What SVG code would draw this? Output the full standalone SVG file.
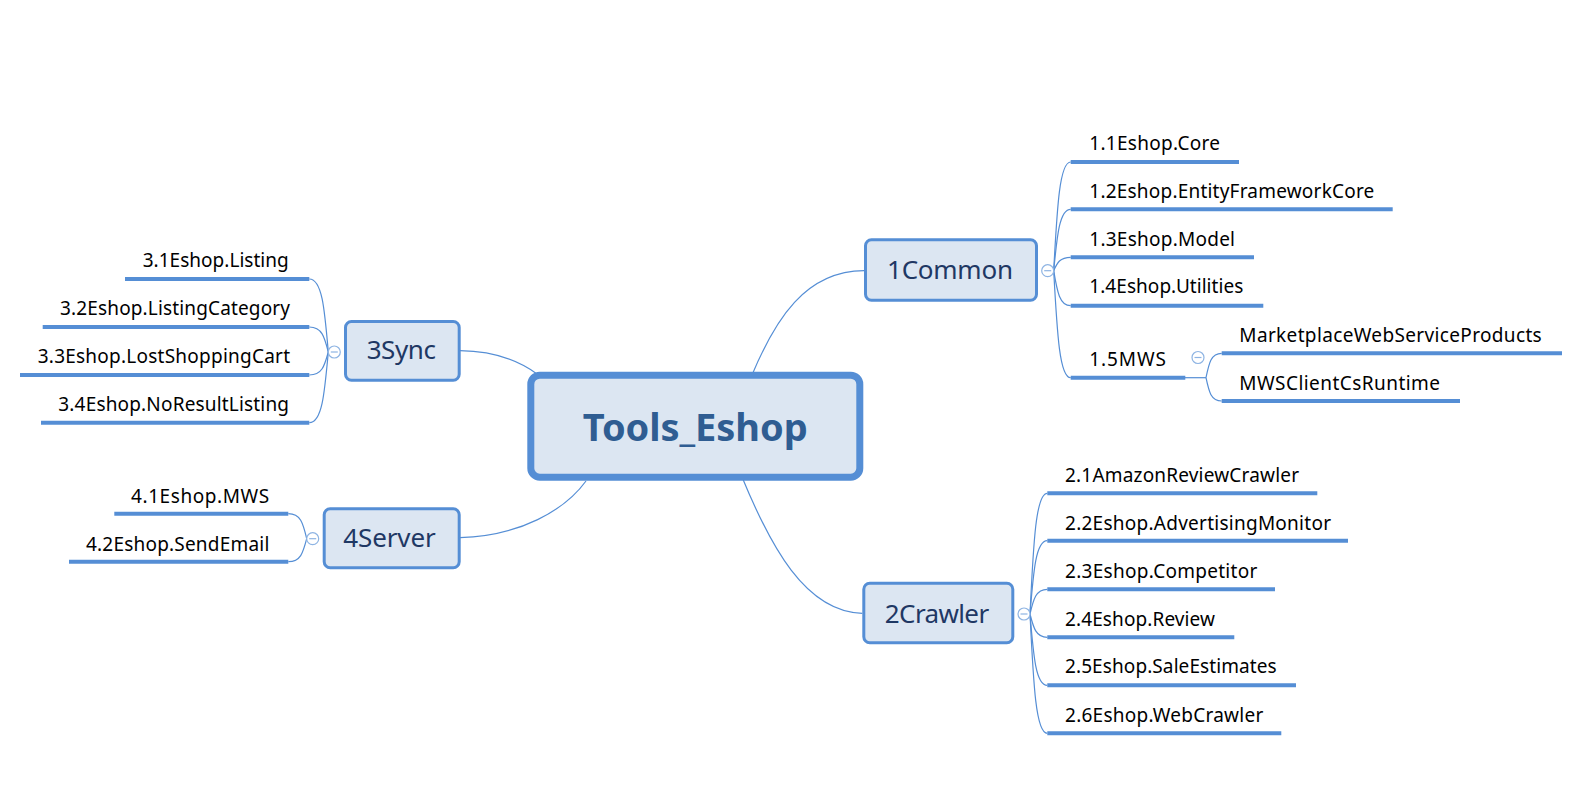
<svg xmlns="http://www.w3.org/2000/svg" width="1594" height="802" viewBox="0 0 1594 802">
<style>
.bg{fill:#ffffff}
.conn{fill:none;stroke:#558ED5;stroke-width:1.2}
.ul{stroke:#558ED5;stroke-width:4;stroke-linecap:butt}
.box{fill:#DCE6F2;stroke:#558ED5;stroke-width:3}
.central{fill:#DCE6F2;stroke:#558ED5;stroke-width:7}
.leaf{font-family:"Noto Sans","Open Sans","DejaVu Sans",sans-serif;font-size:19px;fill:#000000}
.btxt{font-family:"Noto Sans","Open Sans","DejaVu Sans",sans-serif;font-size:26px;fill:#1F3864;text-anchor:middle}
.ctxt{font-family:"Noto Sans","Open Sans","DejaVu Sans",sans-serif;font-size:38px;font-weight:bold;fill:#2F5D92;text-anchor:middle}
.tog{fill:#ffffff;stroke:#8EB4E3;stroke-width:1.2}
.togm{stroke:#8EB4E3;stroke-width:1.2}
</style>
<rect class="bg" x="0" y="0" width="1594" height="802"/>
<g id="connectors">
  <path class="conn" d="M752,375 C775,320 805,271 864,270.7"/>
  <path class="conn" d="M742,477 C770,545 805,612 862.3,613.3"/>
  <path class="conn" d="M460,350.7 C490,351 515,358 537,374"/>
  <path class="conn" d="M460,537.7 C520,536 565,510 586,481"/>
  <path class="conn" d="M1053.7,270.7 C1057.2,205.4 1059.7,162 1070.7,162"/>
  <path class="conn" d="M1053.7,270.7 C1057.2,234 1059.7,209.3 1070.7,209.3"/>
  <path class="conn" d="M1053.7,270.7 C1057.2,263 1059.7,257.3 1070.7,257.3"/>
  <path class="conn" d="M1053.7,270.7 C1057.2,292 1059.7,305.7 1070.7,305.7"/>
  <path class="conn" d="M1053.7,270.7 C1057.2,335 1059.7,377.7 1070.7,377.7"/>
  <path class="conn" d="M1185,377.7 H1206"/>
  <path class="conn" d="M1206,377.7 C1209,363 1211,353.3 1221.7,353.3"/>
  <path class="conn" d="M1206,377.7 C1209,392 1211,401 1221.7,401"/>
  <path class="conn" d="M1030,614 C1033.5,541 1036,493.3 1047.3,493.3"/>
  <path class="conn" d="M1030,614 C1033.5,570 1036,540.7 1047.3,540.7"/>
  <path class="conn" d="M1030,614 C1033.5,599 1036,589.3 1047.3,589.3"/>
  <path class="conn" d="M1030,614 C1033.5,628 1036,637.3 1047.3,637.3"/>
  <path class="conn" d="M1030,614 C1033.5,657 1036,685.3 1047.3,685.3"/>
  <path class="conn" d="M1030,614 C1033.5,686 1036,733.3 1047.3,733.3"/>
  <path class="conn" d="M328.3,352 C324.5,308 322,279 309.3,279"/>
  <path class="conn" d="M328.3,352 C324.5,337 322,327 309.3,327"/>
  <path class="conn" d="M328.3,352 C324.5,366 322,375 309.3,375"/>
  <path class="conn" d="M328.3,352 C324.5,394 322,422.7 309.3,422.7"/>
  <path class="conn" d="M306.7,538.7 C303,523 300.5,513.7 288.3,513.7"/>
  <path class="conn" d="M306.7,538.7 C303,553 300.5,561.7 288.3,561.7"/>
</g>
<g id="node-central">
  <rect class="central" x="530.8" y="375.2" width="329" height="102" rx="9"/>
  <text class="ctxt" x="695.2" y="440.7" textLength="225">Tools_Eshop</text>
</g>
<g id="node-1common">
  <rect class="box" x="865.5" y="239.8" width="171" height="60.4" rx="6"/>
  <text class="btxt" x="950" y="279" textLength="126">1Common</text>
  <circle class="tog" cx="1047.7" cy="270.7" r="6"/>
  <line class="togm" x1="1044.2" y1="270.7" x2="1051.2" y2="270.7"/>
</g>
<g id="node-1-1">
  <line class="ul" x1="1070.7" y1="162" x2="1239" y2="162"/>
  <text class="leaf" x="1089.3" y="150" textLength="130.7">1.1Eshop.Core</text>
</g>
<g id="node-1-2">
  <line class="ul" x1="1070.7" y1="209.3" x2="1392.7" y2="209.3"/>
  <text class="leaf" x="1089.3" y="197.7" textLength="285">1.2Eshop.EntityFrameworkCore</text>
</g>
<g id="node-1-3">
  <line class="ul" x1="1070.7" y1="257.3" x2="1254" y2="257.3"/>
  <text class="leaf" x="1089.3" y="246" textLength="145.7">1.3Eshop.Model</text>
</g>
<g id="node-1-4">
  <line class="ul" x1="1070.7" y1="305.7" x2="1263.3" y2="305.7"/>
  <text class="leaf" x="1089.3" y="293.3" textLength="154">1.4Eshop.Utilities</text>
</g>
<g id="node-1-5">
  <line class="ul" x1="1070.7" y1="377.7" x2="1185.3" y2="377.7"/>
  <text class="leaf" x="1089.3" y="365.7" textLength="76.7">1.5MWS</text>
  <circle class="tog" cx="1198" cy="357.5" r="6"/>
  <line class="togm" x1="1194.5" y1="357.5" x2="1201.5" y2="357.5"/>
</g>
<g id="node-mws-products">
  <line class="ul" x1="1221.7" y1="353.3" x2="1562" y2="353.3"/>
  <text class="leaf" x="1239.3" y="341.7" textLength="302.4">MarketplaceWebServiceProducts</text>
</g>
<g id="node-mws-runtime">
  <line class="ul" x1="1221.7" y1="401" x2="1460" y2="401"/>
  <text class="leaf" x="1239.3" y="390" textLength="200.7">MWSClientCsRuntime</text>
</g>
<g id="node-2crawler">
  <rect class="box" x="863.8" y="583.2" width="149" height="59.6" rx="6"/>
  <text class="btxt" x="937" y="622.7" textLength="104.3">2Crawler</text>
  <circle class="tog" cx="1024" cy="614" r="6"/>
  <line class="togm" x1="1020.5" y1="614" x2="1027.5" y2="614"/>
</g>
<g id="node-2-1">
  <line class="ul" x1="1047.3" y1="493.3" x2="1317.3" y2="493.3"/>
  <text class="leaf" x="1065" y="481.7" textLength="234">2.1AmazonReviewCrawler</text>
</g>
<g id="node-2-2">
  <line class="ul" x1="1047.3" y1="540.7" x2="1348" y2="540.7"/>
  <text class="leaf" x="1065" y="530" textLength="266">2.2Eshop.AdvertisingMonitor</text>
</g>
<g id="node-2-3">
  <line class="ul" x1="1047.3" y1="589.3" x2="1275" y2="589.3"/>
  <text class="leaf" x="1065" y="578.3" textLength="192.3">2.3Eshop.Competitor</text>
</g>
<g id="node-2-4">
  <line class="ul" x1="1047.3" y1="637.3" x2="1234.3" y2="637.3"/>
  <text class="leaf" x="1065" y="626" textLength="150">2.4Eshop.Review</text>
</g>
<g id="node-2-5">
  <line class="ul" x1="1047.3" y1="685.3" x2="1296" y2="685.3"/>
  <text class="leaf" x="1065" y="673.3" textLength="211.7">2.5Eshop.SaleEstimates</text>
</g>
<g id="node-2-6">
  <line class="ul" x1="1047.3" y1="733.3" x2="1281.3" y2="733.3"/>
  <text class="leaf" x="1065" y="721.7" textLength="198.3">2.6Eshop.WebCrawler</text>
</g>
<g id="node-3sync">
  <rect class="box" x="345.5" y="321.5" width="113.7" height="58.7" rx="6"/>
  <text class="btxt" x="401.3" y="359.3" textLength="69.3">3Sync</text>
  <circle class="tog" cx="334.3" cy="352" r="6"/>
  <line class="togm" x1="330.8" y1="352" x2="337.8" y2="352"/>
</g>
<g id="node-3-1">
  <line class="ul" x1="125" y1="279" x2="309.3" y2="279"/>
  <text class="leaf" x="142.7" y="267.3" textLength="146">3.1Eshop.Listing</text>
</g>
<g id="node-3-2">
  <line class="ul" x1="42.7" y1="327" x2="309.3" y2="327"/>
  <text class="leaf" x="60" y="315" textLength="230">3.2Eshop.ListingCategory</text>
</g>
<g id="node-3-3">
  <line class="ul" x1="20" y1="375" x2="309.3" y2="375"/>
  <text class="leaf" x="37.7" y="363.3" textLength="252.3">3.3Eshop.LostShoppingCart</text>
</g>
<g id="node-3-4">
  <line class="ul" x1="41" y1="422.7" x2="309.3" y2="422.7"/>
  <text class="leaf" x="58.3" y="410.7" textLength="230.7">3.4Eshop.NoResultListing</text>
</g>
<g id="node-4server">
  <rect class="box" x="324.2" y="508.8" width="135" height="59" rx="6"/>
  <text class="btxt" x="389.5" y="546.7" textLength="92.3">4Server</text>
  <circle class="tog" cx="312.7" cy="538.7" r="6"/>
  <line class="togm" x1="309.2" y1="538.7" x2="316.2" y2="538.7"/>
</g>
<g id="node-4-1">
  <line class="ul" x1="114.3" y1="513.7" x2="288.3" y2="513.7"/>
  <text class="leaf" x="131" y="503.3" textLength="138.3">4.1Eshop.MWS</text>
</g>
<g id="node-4-2">
  <line class="ul" x1="69" y1="561.7" x2="288.3" y2="561.7"/>
  <text class="leaf" x="86" y="551" textLength="183.3">4.2Eshop.SendEmail</text>
</g>
</svg>
